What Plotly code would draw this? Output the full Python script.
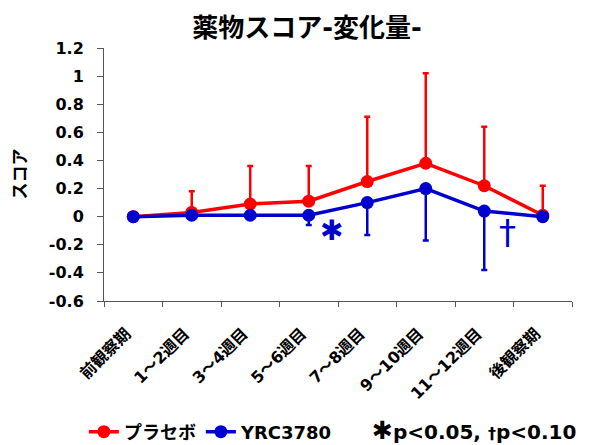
import plotly.graph_objects as go

categories = ["前観察期", "1～2週目", "3～4週目", "5～6週目", "7～8週目", "9～10週目", "11～12週目", "後観察期"]
placebo = [0.0, 0.03, 0.09, 0.11, 0.25, 0.38, 0.22, 0.01]
placebo_err_plus = [0.0, 0.15, 0.27, 0.25, 0.46, 0.64, 0.42, 0.21]
yrc = [0.0, 0.01, 0.01, 0.01, 0.10, 0.20, 0.04, 0.0]
yrc_err_minus = [0.0, 0.0, 0.0, 0.07, 0.23, 0.37, 0.42, 0.0]
y_ticks = [-0.6, -0.4, -0.2, 0, 0.2, 0.4, 0.6, 0.8, 1, 1.2]
y_tick_labels = ["-0.6", "-0.4", "-0.2", "0", "0.2", "0.4", "0.6", "0.8", "1", "1.2"]

FONT = "Verdana, DejaVu Sans, Noto Sans CJK JP"
RED = "#ff0000"
BLUE = "#0000cc"

# page body has an 8px default margin; figure is sized to fit the window
W, H = 602, 437
PL, PR, PT, PB = 96, 564, 40, 293  # plot area in figure pixels

fig = go.Figure()
fig.add_trace(go.Scatter(
    x=categories, y=placebo, mode="lines+markers", name="<b>プラセボ</b>",
    line=dict(color=RED, width=3.5), marker=dict(color=RED, size=13),
    error_y=dict(type="data", symmetric=False, array=placebo_err_plus,
                 arrayminus=[0] * len(placebo), color=RED, thickness=2.5, width=3),
))
fig.add_trace(go.Scatter(
    x=categories, y=yrc, mode="lines+markers", name="<b>YRC3780</b>",
    line=dict(color=BLUE, width=3.5), marker=dict(color=BLUE, size=13),
    error_y=dict(type="data", symmetric=False, array=[0] * len(yrc),
                 arrayminus=yrc_err_minus, color=BLUE, thickness=2.5, width=3),
))

# significance marks
fig.add_annotation(x=3.39, y=-0.1, xref="x", yref="y", text="✱", showarrow=False,
                   font=dict(size=28, color=BLUE, family=FONT))
fig.add_annotation(x=6.4, y=-0.11, xref="x", yref="y", text="†", showarrow=False,
                   font=dict(size=34, color=BLUE, family=FONT))
# footnote
fig.add_annotation(x=(578 - 104) / 468, y=(301 - 430) / 253, xref="paper", yref="paper",
                   xanchor="right", yanchor="middle", showarrow=False,
                   text="<b><span style='font-size:25px'>✱</span>p&lt;0.05, <span style='font-size:16px'>†</span>p&lt;0.10</b>",
                   font=dict(size=20, color="black", family=FONT))
# y-axis title
fig.add_annotation(x=(19 - 104) / 468, y=0.5, xref="paper", yref="paper",
                   xanchor="center", yanchor="middle", showarrow=False, textangle=-90,
                   text="<b>スコア</b>", font=dict(size=17, color="black", family=FONT))

fig.update_layout(
    width=W, height=H,
    margin=dict(l=PL, r=W - PR, t=PT, b=H - PB, autoexpand=False),
    paper_bgcolor="white", plot_bgcolor="white",
    font=dict(family=FONT, size=14, color="black"),
    title=dict(text="<b>薬物スコア-変化量-</b>", x=299 / W, xanchor="center",
               y=1 - 20 / H, yanchor="middle", font=dict(size=26, family=FONT)),
    showlegend=True,
    legend=dict(orientation="h", x=-0.043, xanchor="left", y=(301 - 432) / 253, yanchor="middle",
                font=dict(size=18, family=FONT), itemwidth=30,
                bgcolor="rgba(0,0,0,0)"),
    xaxis=dict(type="category", tickson="boundaries", ticks="outside", ticklen=5,
               tickcolor="#555", showline=True, linecolor="#555", linewidth=1,
               showgrid=False, tickangle=-45, tickfont=dict(size=16, family=FONT),
               tickprefix="<b>", ticksuffix="</b>", range=[-0.5, 7.5],
               automargin=False, ticklabelstandoff=16, ticklabelshift=-7),
    yaxis=dict(range=[-0.6, 1.2], tickvals=y_ticks, ticktext=["<b>" + t + "</b>" for t in y_tick_labels],
               ticks="outside", ticklen=6, tickcolor="#555", showline=True,
               linecolor="#555", linewidth=1, showgrid=False, zeroline=False,
               tickfont=dict(size=16, family=FONT), automargin=False, ticklabelstandoff=10),
)

fig.write_html("out.html")
